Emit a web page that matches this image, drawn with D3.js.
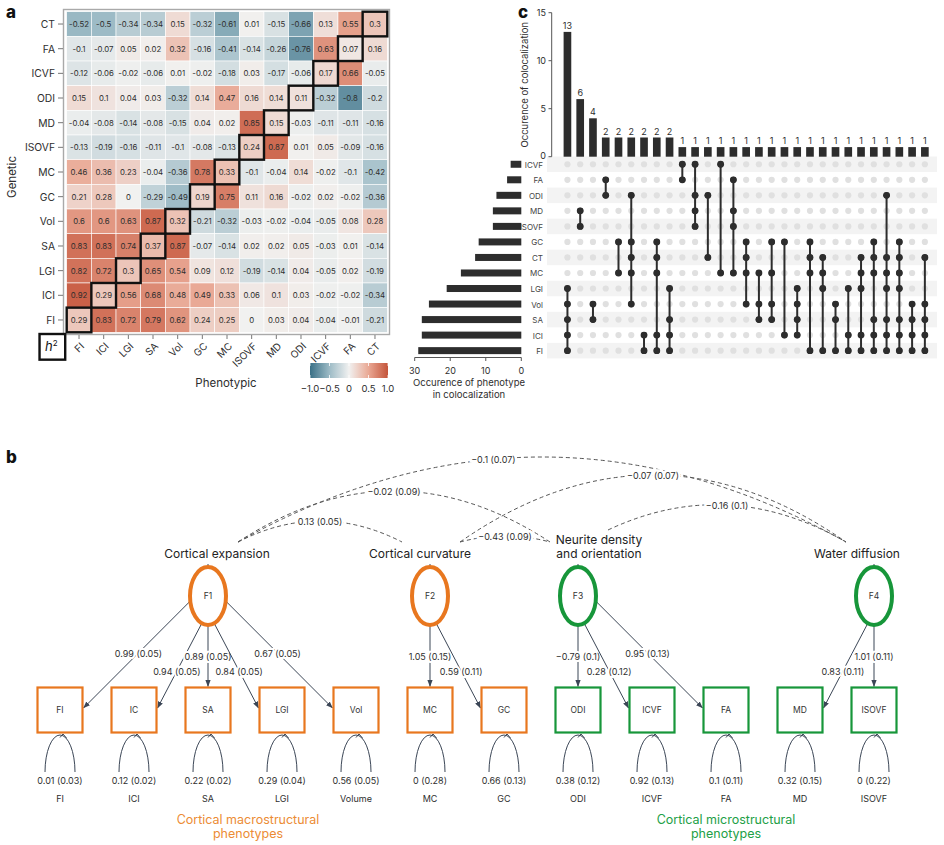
<!DOCTYPE html>
<html><head><meta charset="utf-8">
<script src="https://cdn.jsdelivr.net/npm/d3@7"></script>
<style>
body{margin:0;background:#fff}
svg text{font-family:Inter,'Open Sans',sans-serif}
</style></head>
<body><svg id="c" width="944" height="845"></svg>
<script>
// ================= DATA =================
// Panel a: heatmap
const hmRows = ["CT","FA","ICVF","ODI","MD","ISOVF","MC","GC","Vol","SA","LGI","ICI","FI"];
const hmCols = ["FI","ICI","LGI","SA","Vol","GC","MC","ISOVF","MD","ODI","ICVF","FA","CT"];
const hmValues = [
  [-0.52,-0.5,-0.34,-0.34,0.15,-0.32,-0.61,0.01,-0.15,-0.66,0.13,0.55,0.3],
  [-0.1,-0.07,0.05,0.02,0.32,-0.16,-0.41,-0.14,-0.26,-0.76,0.63,0.07,0.16],
  [-0.12,-0.06,-0.02,-0.06,0.01,-0.02,-0.18,0.03,-0.17,-0.06,0.17,0.66,-0.05],
  [0.15,0.1,0.04,0.03,-0.32,0.14,0.47,0.16,0.14,0.11,-0.32,-0.8,-0.2],
  [-0.04,-0.08,-0.14,-0.08,-0.15,0.04,0.02,0.85,0.15,-0.03,-0.11,-0.11,-0.16],
  [-0.13,-0.19,-0.16,-0.11,-0.1,-0.08,-0.13,0.24,0.87,0.01,0.05,-0.09,-0.16],
  [0.46,0.36,0.23,-0.04,-0.36,0.78,0.33,-0.1,-0.04,0.14,-0.02,-0.1,-0.42],
  [0.21,0.28,0,-0.29,-0.49,0.19,0.75,0.11,0.16,-0.02,0.02,-0.02,-0.36],
  [0.6,0.6,0.63,0.87,0.32,-0.21,-0.32,-0.03,-0.02,-0.04,-0.05,0.08,0.28],
  [0.83,0.83,0.74,0.37,0.87,-0.07,-0.14,0.02,0.02,0.05,-0.03,0.01,-0.14],
  [0.82,0.72,0.3,0.65,0.54,0.09,0.12,-0.19,-0.14,0.04,-0.05,0.02,-0.19],
  [0.92,0.29,0.56,0.68,0.48,0.49,0.33,0.06,0.1,0.03,-0.02,-0.02,-0.34],
  [0.29,0.83,0.72,0.79,0.62,0.24,0.25,0,0.03,0.04,-0.04,-0.01,-0.21]
];
const legendTicks = [-1.0,-0.5,0,0.5,1.0];
const legendLabels = ["\u22121.0","\u22120.5","0","0.5","1.0"];

// Panel c: UpSet
const setNames = ["ICVF","FA","ODI","MD","ISOVF","GC","CT","MC","LGI","Vol","SA","ICI","FI"];
const setSizes = [3,4,7,8,8,12,13,17,21,26,28,28,29];
const intersections = [
  ["LGI","Vol","SA","ICI","FI"],["MD","ISOVF"],["Vol","SA"],["FA","ODI"],["GC","MC"],
  ["ODI","GC","CT","MC","Vol"],["ICI","FI"],["GC","CT","MC","ICI","FI"],["LGI","SA","ICI","FI"],
  ["ICVF","FA"],["ICVF","ODI","MD","ISOVF"],["ODI","CT"],["ICVF","MC"],["FA","MD","ISOVF","MC"],
  ["GC","CT","MC","Vol"],["MC","Vol","SA"],["GC","MC","Vol","SA"],["GC","ICI"],["LGI","Vol","SA","ICI"],
  ["GC","CT","MC","FI"],["CT","MC","LGI","FI"],["Vol","SA","FI"],["LGI","ICI","FI"],
  ["CT","MC","LGI","ICI","FI"],["GC","CT","MC","SA","ICI","FI"],["ODI","CT","MC","LGI","SA","ICI","FI"],
  ["GC","CT","MC","LGI","SA","ICI","FI"],["Vol","SA","ICI","FI"],["CT","Vol","SA","ICI","FI"]
];
const intersectionCounts = [13,6,4,2,2,2,2,2,2,1,1,1,1,1,1,1,1,1,1,1,1,1,1,1,1,1,1,1,1];
const topTicks = [0,5,10,15];
const leftTicks = [30,20,10,0];

// Panel b: SEM
const factors = ["F1","F2","F3","F4"];
const factorNames = [["Cortical expansion"],["Cortical curvature"],["Neurite density","and orientation"],["Water diffusion"]];
const factorGroup = ["macro","macro","micro","micro"];
const factorAnchor = ["SA","MC","ODI","ISOVF"];
const indicators = ["FI","IC","SA","LGI","Vol","MC","GC","ODI","ICVF","FA","MD","ISOVF"];
const indicatorNames = ["FI","ICI","SA","LGI","Volume","MC","GC","ODI","ICVF","FA","MD","ISOVF"];
const indicatorFactor = ["F1","F1","F1","F1","F1","F2","F2","F3","F3","F3","F4","F4"];
const loadings = ["0.99 (0.05)","0.94 (0.05)","0.89 (0.05)","0.84 (0.05)","0.67 (0.05)","1.05 (0.15)","0.59 (0.11)","\u22120.79 (0.1)","0.28 (0.12)","0.95 (0.13)","0.83 (0.11)","1.01 (0.11)"];
const residuals = ["0.01 (0.03)","0.12 (0.02)","0.22 (0.02)","0.29 (0.04)","0.56 (0.05)","0 (0.28)","0.66 (0.13)","0.38 (0.12)","0.92 (0.13)","0.1 (0.11)","0.32 (0.15)","0 (0.22)"];
const covPairs = [["F1","F2"],["F1","F3"],["F1","F4"],["F2","F3"],["F2","F4"],["F3","F4"]];
const covLabels = ["0.13 (0.05)","\u22120.02 (0.09)","\u22120.1 (0.07)","\u22120.43 (0.09)","\u22120.07 (0.07)","\u22120.16 (0.1)"];
const groupLabels = [["Cortical macrostructural","phenotypes"],["Cortical microstructural","phenotypes"]];

// ================= DRAW =================
const svg = d3.select("#c");
const TXT = "#2e2e2e";

// panel letters
[["a",6,18],["c",518,18],["b",6,463]].forEach(([t,x,y])=>
  svg.append("text").attr("x",x).attr("y",y).attr("font-size",17).attr("font-weight",800).attr("fill","#111").text(t));

// ---------- Panel a ----------
const hx = d3.scaleBand().domain(hmCols).range([66.7, 387.3]);
const hy = d3.scaleBand().domain(hmRows).range([11.7, 332.3]);
const hcolor = d3.scaleLinear().domain(legendTicks)
  .range(["#3a7086","#9dbbc6","#f1f1f0","#e9a894","#c4543a"]).clamp(true);
const gA = svg.append("g");
const cells = hmRows.flatMap((r,i)=>hmCols.map((c,j)=>({r,c,v:hmValues[i][j]})));
gA.selectAll("rect.cell").data(cells).join("rect").attr("class","cell")
  .attr("x",d=>hx(d.c)).attr("y",d=>hy(d.r))
  .attr("width",hx.bandwidth()).attr("height",hy.bandwidth())
  .attr("fill",d=>hcolor(d.v)).attr("stroke","#fff").attr("stroke-width",0.6);
gA.selectAll("text.cv").data(cells).join("text").attr("class","cv")
  .attr("x",d=>hx(d.c)+hx.bandwidth()/2).attr("y",d=>hy(d.r)+hy.bandwidth()/2)
  .attr("text-anchor","middle").attr("dominant-baseline","central")
  .attr("font-size",7.8).attr("fill",TXT).text(d=>String(d.v));
// panel border
gA.append("rect").attr("x",63.5).attr("y",9.5).attr("width",326).attr("height",325)
  .attr("fill","none").attr("stroke","#a9a9a9").attr("stroke-width",1.4);
// diagonal boxes
gA.selectAll("rect.diag").data(hmCols).join("rect").attr("class","diag")
  .attr("x",d=>hx(d)).attr("y",d=>hy(d)).attr("width",hx.bandwidth()).attr("height",hy.bandwidth())
  .attr("fill","none").attr("stroke","#111").attr("stroke-width",2.4);
// y axis ticks + labels
hmRows.forEach(r=>{
  const y = hy(r)+hy.bandwidth()/2;
  gA.append("line").attr("x1",58).attr("x2",63).attr("y1",y).attr("y2",y).attr("stroke","#777");
  gA.append("text").attr("x",55).attr("y",y).attr("text-anchor","end").attr("dominant-baseline","central")
    .attr("font-size",10.3).attr("fill",TXT).text(r);
});
hmCols.forEach(c=>{
  const x = hx(c)+hx.bandwidth()/2;
  gA.append("line").attr("x1",x).attr("x2",x).attr("y1",335).attr("y2",339).attr("stroke","#777");
  gA.append("text").attr("transform",`translate(${x+3},${344}) rotate(-45)`).attr("text-anchor","end")
    .attr("dominant-baseline","central").attr("font-size",10).attr("fill",TXT).text(c);
});
// h2 box
gA.append("rect").attr("x",hx.range()[0]-hx.bandwidth()-2.5).attr("y",334).attr("width",hx.bandwidth()+1).attr("height",hy.bandwidth()+1)
  .attr("fill","none").attr("stroke","#111").attr("stroke-width",2.4);
const h2 = gA.append("text").attr("x",hx.range()[0]-hx.bandwidth()/2-3).attr("y",351).attr("text-anchor","middle")
  .attr("font-size",13).attr("font-style","italic").attr("fill","#111");
h2.append("tspan").text("h");
h2.append("tspan").attr("dy",-5).attr("font-size",8).attr("font-style","normal").text("2");
gA.append("text").attr("x",226).attr("y",387).attr("text-anchor","middle").attr("font-size",11.5).attr("fill",TXT).text("Phenotypic");
gA.append("text").attr("transform","translate(16,177) rotate(-90)").attr("text-anchor","middle").attr("font-size",11.5).attr("fill",TXT).text("Genetic");
// legend
const lx = d3.scaleLinear().domain([-1,1]).range([310,388]);
const defs = svg.append("defs");
const grad = defs.append("linearGradient").attr("id","lg");
d3.range(0,1.0001,0.05).forEach(t=>grad.append("stop").attr("offset",t).attr("stop-color",hcolor(-1+2*t)));
gA.append("rect").attr("x",lx(-1)).attr("y",363).attr("width",lx(1)-lx(-1)).attr("height",15).attr("fill","url(#lg)");
legendTicks.forEach((t,i)=>{
  gA.append("line").attr("x1",lx(t)).attr("x2",lx(t)).attr("y1",363).attr("y2",366).attr("stroke","#fff").attr("stroke-width",0.8);
  gA.append("line").attr("x1",lx(t)).attr("x2",lx(t)).attr("y1",375).attr("y2",378).attr("stroke","#fff").attr("stroke-width",0.8);
  gA.append("text").attr("x",lx(t)).attr("y",392).attr("text-anchor","middle").attr("font-size",9.5).attr("fill",TXT).text(legendLabels[i]);
});

// ---------- Panel c ----------
const gC = svg.append("g");
const xi = d3.scaleBand().domain(d3.range(intersections.length)).range([558.5, 933.8]).padding(0.4);
const yTop = d3.scaleLinear().domain([0,15]).range([156.7,12.7]);
const yRow = d3.scaleBand().domain(setNames).range([156.5, 358.4]);
const xLeft = d3.scaleLinear().domain([0,30]).range([521.3,414.7]);
const DARK = "#2d2d2d";
// row bands
setNames.forEach((s,i)=>{ if(i%2===0) gC.append("rect").attr("x",547).attr("y",yRow(s)).attr("width",390).attr("height",yRow.bandwidth()).attr("fill","#f3f3f3"); });
// top bars
gC.selectAll("rect.ib").data(intersectionCounts).join("rect").attr("class","ib")
  .attr("x",(d,i)=>xi(i)).attr("y",d=>yTop(d)).attr("width",xi.bandwidth()).attr("height",d=>yTop(0)-yTop(d)).attr("fill",DARK);
gC.selectAll("text.ibl").data(intersectionCounts).join("text").attr("class","ibl")
  .attr("x",(d,i)=>xi(i)+xi.bandwidth()/2).attr("y",d=>yTop(d)-3).attr("text-anchor","middle")
  .attr("font-size",9).attr("fill",TXT).text(d=>d);
// top axis
gC.append("line").attr("x1",551.7).attr("x2",551.7).attr("y1",yTop(15)).attr("y2",yTop(0)).attr("stroke","#555");
topTicks.forEach(t=>{
  gC.append("line").attr("x1",548.5).attr("x2",551.7).attr("y1",yTop(t)).attr("y2",yTop(t)).attr("stroke","#555");
  gC.append("text").attr("x",546).attr("y",yTop(t)-(t===0?1.5:0)).attr("text-anchor","end").attr("dominant-baseline","central").attr("font-size",9).attr("fill",TXT).text(t);
});
gC.append("text").attr("transform",`translate(528,${(yTop(0)+yTop(15))/2}) rotate(-90)`).attr("text-anchor","middle")
  .attr("font-size",9.5).attr("fill",TXT).text("Occurence of colocalization");
// matrix
intersections.forEach((set,i)=>{
  const cx = xi(i)+xi.bandwidth()/2;
  setNames.forEach(s=>{
    gC.append("circle").attr("cx",cx).attr("cy",yRow(s)+yRow.bandwidth()/2).attr("r",3.1)
      .attr("fill", set.includes(s) ? DARK : "#e0e0e0");
  });
  const ys = set.map(s=>yRow(s)+yRow.bandwidth()/2);
  gC.append("line").attr("x1",cx).attr("x2",cx).attr("y1",d3.min(ys)).attr("y2",d3.max(ys)).attr("stroke",DARK).attr("stroke-width",2);
  set.forEach(s=>gC.append("circle").attr("cx",cx).attr("cy",yRow(s)+yRow.bandwidth()/2).attr("r",3.4).attr("fill",DARK));
});
// row labels
setNames.forEach(s=>gC.append("text").attr("x",543).attr("y",yRow(s)+yRow.bandwidth()/2+0.5).attr("text-anchor","end")
  .attr("dominant-baseline","central").attr("font-size",8).attr("fill","#444").text(s));
// left bars
gC.selectAll("rect.sb").data(setSizes).join("rect").attr("class","sb")
  .attr("x",d=>xLeft(d)).attr("y",(d,i)=>yRow(setNames[i])+yRow.bandwidth()/2-3.5)
  .attr("width",d=>xLeft(0)-xLeft(d)).attr("height",7).attr("fill",DARK);
gC.append("line").attr("x1",xLeft(30)).attr("x2",xLeft(0)).attr("y1",357.5).attr("y2",357.5).attr("stroke","#555");
leftTicks.forEach(t=>{
  gC.append("line").attr("x1",xLeft(t)).attr("x2",xLeft(t)).attr("y1",357.5).attr("y2",361).attr("stroke","#555");
  gC.append("text").attr("x",xLeft(t)).attr("y",370).attr("text-anchor","middle").attr("dominant-baseline","central").attr("font-size",9).attr("fill",TXT).text(t);
});
gC.append("text").attr("x",469).attr("y",386).attr("text-anchor","middle").attr("font-size",9.5).attr("fill",TXT).text("Occurence of phenotype");
gC.append("text").attr("x",469).attr("y",397.5).attr("text-anchor","middle").attr("font-size",9.5).attr("fill",TXT).text("in colocalization");

// ---------- Panel b ----------
const gB = svg.append("g");
const xInd = d3.scalePoint().domain(indicators).range([60, 874]);
const step = xInd.step();
const Yf = 596, Ybox = 710, BS = 45, RX = 18, RY = 29;
const fx = f => xInd(factorAnchor[factors.indexOf(f)]);
const strokeCol = g => g==="macro" ? "#e8771f" : "#17963a";
const labelCol = g => g==="macro" ? "#ec8c35" : "#22a046";
const LINE = "#3b4656";
defs.append("marker").attr("id","ah").attr("viewBox","0 -3 7 6").attr("refX",6.5).attr("refY",0)
  .attr("markerWidth",7).attr("markerHeight",6).attr("markerUnits","userSpaceOnUse").attr("orient","auto")
  .append("path").attr("d","M0,-2.6L7,0L0,2.6Z").attr("fill",LINE);

// covariance arcs
const labelDx = [9,-10,21,-17];
const arcRise = [21,51,85,6,67,31];
const arcLabelT = [0.5,0.5,0.42,0.5,0.5,0.5];
covPairs.forEach(([a,b],k)=>{
  const ia = factors.indexOf(a);
  const p0 = [fx(a)+30, factorNames[ia].length>1 ? 530 : 542];
  const p2 = [fx(b)-28, 542];
  const mid = [(p0[0]+p2[0])/2,(p0[1]+p2[1])/2];
  const peak = mid[1]-arcRise[k];
  const p1 = [mid[0], 2*peak-mid[1]];
  gB.append("path").attr("d",`M${p0}Q${p1} ${p2}`).attr("fill","none").attr("stroke","#555")
    .attr("stroke-width",1).attr("stroke-dasharray","4,3");
  const t = arcLabelT[k];
  const lxp = (1-t)*(1-t)*p0[0]+2*t*(1-t)*p1[0]+t*t*p2[0];
  const lyp = (1-t)*(1-t)*p0[1]+2*t*(1-t)*p1[1]+t*t*p2[1];
  gB.append("text").attr("x",lxp).attr("y",lyp).attr("text-anchor","middle").attr("dominant-baseline","central")
    .attr("font-size",9).attr("fill",TXT).attr("stroke","#fff").attr("stroke-width",5).attr("paint-order","stroke")
    .text(covLabels[k]);
});

// factor labels + ellipses
factors.forEach((f,i)=>{
  const x = fx(f);
  const lines = factorNames[i];
  lines.forEach((ln,j)=>gB.append("text").attr("x",x+labelDx[i]).attr("y",558-(lines.length-1-j)*14)
    .attr("text-anchor","middle").attr("font-size",12).attr("fill","#222").text(ln));
  gB.append("line").attr("x1",x).attr("x2",x).attr("y1",Yf-RY-3).attr("y2",Yf-RY).attr("stroke",LINE);
});

// loadings
indicators.forEach((ind,k)=>{
  const f = indicatorFactor[k];
  const cx = fx(f), bx = xInd(ind);
  const s = Math.round((bx-cx)/step);
  let ang, end, ly;
  if(s===0){ ang=90; end=[bx, Ybox-BS/2-1]; ly=656; }
  else if(Math.abs(s)===1){ ang = s>0?70:110; ly=671; end=[bx - Math.sign(s)*(BS/2+1), Ybox-2]; }
  else { ang = s>0?10:170; ly=653; end=[bx - Math.sign(s)*(BS/2+1), Ybox-2]; }
  const r = ang*Math.PI/180;
  const st = [cx+RX*Math.cos(r), Yf+RY*Math.sin(r)];
  gB.append("line").attr("x1",st[0]).attr("y1",st[1]).attr("x2",end[0]).attr("y2",end[1])
    .attr("stroke",LINE).attr("stroke-width",1).attr("marker-end","url(#ah)");
  const tt = (ly-st[1])/(end[1]-st[1]);
  const lxx = st[0]+tt*(end[0]-st[0]);
  gB.append("text").attr("x",lxx).attr("y",ly).attr("text-anchor","middle").attr("dominant-baseline","central")
    .attr("font-size",9).attr("fill",TXT).attr("stroke","#fff").attr("stroke-width",4).attr("paint-order","stroke")
    .text(loadings[k]);
});

factors.forEach((f,i)=>{
  const x = fx(f);
  gB.append("ellipse").attr("cx",x).attr("cy",Yf).attr("rx",RX).attr("ry",RY).attr("fill","#fff")
    .attr("stroke",strokeCol(factorGroup[i])).attr("stroke-width",4);
  gB.append("text").attr("x",x).attr("y",Yf).attr("text-anchor","middle").attr("dominant-baseline","central")
    .attr("font-size",8.5).attr("fill","#333").text(f);
});

// boxes, loops, residuals
indicators.forEach((ind,k)=>{
  const x = xInd(ind);
  const g = factorGroup[factors.indexOf(indicatorFactor[k])];
  gB.append("rect").attr("x",x-BS/2).attr("y",Ybox-BS/2).attr("width",BS).attr("height",BS)
    .attr("fill","#fff").attr("stroke",strokeCol(g)).attr("stroke-width",2.2);
  gB.append("text").attr("x",x).attr("y",Ybox).attr("text-anchor","middle").attr("dominant-baseline","central")
    .attr("font-size",8.5).attr("fill","#333").text(ind);
  gB.append("path").attr("d",`M${x-15},772 A15,37 0 0 1 ${x+15},772`).attr("fill","none").attr("stroke",LINE).attr("stroke-width",1);
  gB.append("path").attr("d",`M${x},737.5 L${x+3},734 L${x+6.5},738`).attr("fill","none").attr("stroke",LINE).attr("stroke-width",1);
  gB.append("text").attr("x",x).attr("y",780).attr("text-anchor","middle").attr("dominant-baseline","central")
    .attr("font-size",9).attr("fill",TXT).text(residuals[k]);
  gB.append("text").attr("x",x).attr("y",798).attr("text-anchor","middle").attr("dominant-baseline","central")
    .attr("font-size",9).attr("fill",TXT).text(indicatorNames[k]);
});

// group labels
const groupX = [d3.mean(["FI","IC","SA","LGI","Vol","MC"].map(xInd))+3, d3.mean(["ODI","ICVF","FA","MD"].map(xInd))+37];
groupLabels.forEach((lines,i)=>{
  lines.forEach((ln,j)=>gB.append("text").attr("x",groupX[i]).attr("y",824+j*14).attr("text-anchor","middle")
    .attr("font-size",12.5).attr("fill",labelCol(i===0?"macro":"micro")).text(ln));
});
</script></body></html>
